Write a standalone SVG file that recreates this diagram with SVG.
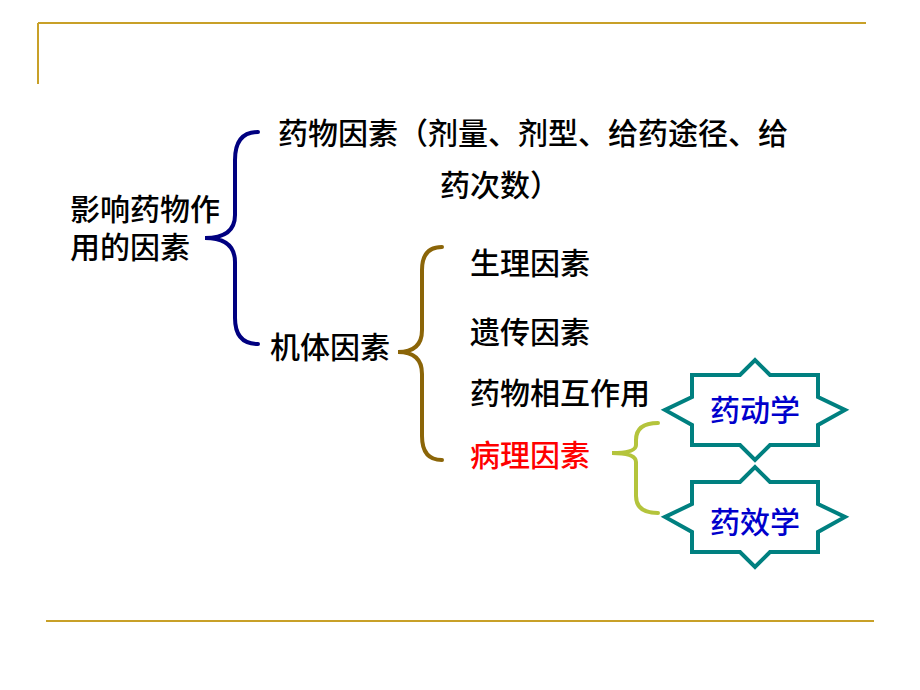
<svg xmlns="http://www.w3.org/2000/svg" width="920" height="690" viewBox="0 0 920 690">
<style>
text{font-family:"Noto Sans CJK SC","Liberation Sans",sans-serif;font-size:30px;font-weight:500;fill:#000}
.b{fill:none;stroke-width:4;stroke-linecap:round}
.star{fill:#fff;stroke:#008080;stroke-width:4}
</style>
<rect width="920" height="690" fill="#fff"/>
<g id="frame" stroke="#c8a028" stroke-width="2">
<line x1="38" y1="23" x2="866" y2="23"/><line x1="38" y1="23" x2="38" y2="84"/>
<line x1="46" y1="621" x2="874" y2="621"/>
</g>
<g id="connectors">
<path class="b" stroke="#000080" d="M258,132 Q235,132 235,160 L235,215 Q235,238 205,238 Q235,238 235,262 L235,318 Q235,344 258,344"/>
<path class="b" stroke="#8b6508" d="M442,247 Q422,247 422,270 L422,330 Q422,352 398,352 Q422,352 422,374 L422,436 Q422,460 442,460"/>
<path class="b" stroke="#b4c43c" d="M658,423 Q636,423 636,440 L636,445 Q636,453 612,453 Q636,453 636,462 L636,496 Q636,513 658,513"/>
</g>
<g id="root"><text x="70" y="220">影响药物作</text><text x="70" y="258">用的因素</text></g>
<g id="drug"><text x="278" y="144">药物因素（剂量、剂型、给药途径、给</text><text x="440" y="196">药次数）</text></g>
<g id="body"><text x="270" y="358">机体因素</text></g>
<g id="n1"><text x="470" y="274">生理因素</text></g>
<g id="n2"><text x="470" y="343">遗传因素</text></g>
<g id="n3"><text x="470" y="404">药物相互作用</text></g>
<g id="n4"><text x="470" y="466" style="fill:#ff0000">病理因素</text></g>
<g id="pk"><polygon class="star" points="692,375 740,375 755,360 770,375 818,375 818,397 845,410 818,425 818,445 770,445 755,460 740,445 692,445 692,425 665,410 692,397"/>
<text x="755" y="421" text-anchor="middle" style="fill:#0000cc">药动学</text></g>
<g id="pd"><polygon class="star" points="692,482 740,482 755,467 770,482 818,482 818,504 845,517 818,532 818,552 770,552 755,567 740,552 692,552 692,532 665,517 692,504"/>
<text x="755" y="533" text-anchor="middle" style="fill:#0000cc">药效学</text></g>
</svg>
